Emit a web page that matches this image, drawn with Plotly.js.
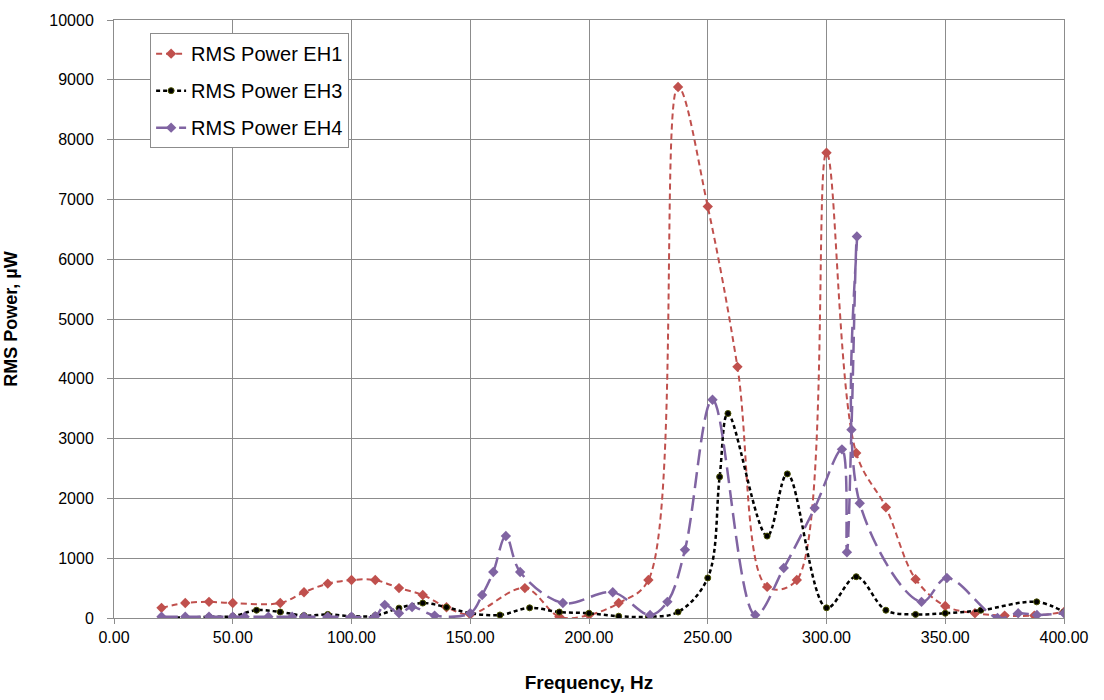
<!DOCTYPE html>
<html>
<head>
<meta charset="utf-8">
<script src="https://cdn.plot.ly/plotly-3.0.1.min.js"></script>
<style>html,body{margin:0;padding:0;background:#fff;}#chart{width:1104px;height:700px;}</style>
</head>
<body>
<div id="chart"></div>
<script>
// EH1 (red)
const freqEH1 = [20,30,40,50,70,80,90,100,110,120,130,140,150,173,187.5,200,212.5,225,237.5,250,262.5,275,287.5,300,312.5,325,337.5,350,362.5,375,387.5,400];
const powerEH1 = [170,250,270,250,250,430,575,635,635,500,385,180,60,500,20,50,250,635,8880,6880,4200,520,635,7780,2760,1850,650,200,80,40,40,100];
// EH3 (black)
const freqEH3 = [20,30,40,50,60,70,80,90,100,110,120,130,140,150,162.5,175,187.5,200,212.5,225,237.5,250,255,258.5,275,283.5,300,312.5,325,337.5,350,365,388.5,400];
const powerEH3 = [10,10,20,30,130,100,40,60,30,40,165,250,180,80,50,170,100,80,30,20,100,670,2360,3420,1370,2410,170,690,130,60,80,130,270,100];
// EH4 (purple)
const freqEH4 = [20,30,40,50,55,65,75,80,90,100,110,114,120,125.5,135,150,155,159.7,165,171,189,210,225.7,233,240.4,252,270,282,295,306.5,308.6,310.5,312.8,314,340,350.7,372,380.7,388.6,400];
const powerEH4 = [20,20,20,20,20,20,20,20,20,20,30,220,80,185,40,80,385,770,1370,770,250,430,50,270,1140,3650,50,835,1840,2820,1100,3150,6380,1920,270,670,0,80,50,80];

const seriesNames = ["RMS Power EH1","RMS Power EH3","RMS Power EH4"];
const xTickVals = [0,50,100,150,200,250,300,350,400];
const yTickVals = [0,1000,2000,3000,4000,5000,6000,7000,8000,9000,10000];

const traces = [
  {x: freqEH1, y: powerEH1, name: seriesNames[0], type: 'scatter', mode: 'lines+markers',
   line: {color: '#C0504D', width: 2, dash: '6px,4px', shape: 'spline', smoothing: 1},
   marker: {symbol: 'diamond', size: 8, color: '#C0504D'}, legendgroup: 'a'},
  {x: freqEH3, y: powerEH3, name: seriesNames[1], type: 'scatter', mode: 'lines+markers',
   line: {color: '#000000', width: 2.5, dash: '4px,3px', shape: 'spline', smoothing: 1},
   marker: {symbol: 'circle', size: 6, color: '#000000', line: {color: '#4a5200', width: 1}}, legendgroup: 'b'},
  {x: freqEH4, y: powerEH4, name: seriesNames[2], type: 'scatter', mode: 'lines+markers',
   line: {color: '#8064A2', width: 2.5, dash: '16px,7px', shape: 'spline', smoothing: 1},
   marker: {symbol: 'diamond', size: 8, color: '#8064A2'}, legendgroup: 'c'}
];

const font = 'Liberation Sans, Arial, sans-serif';
const layout = {
  width: 1104, height: 700,
  margin: {l: 114, r: 40, t: 20, b: 82},
  paper_bgcolor: '#ffffff', plot_bgcolor: '#ffffff',
  font: {family: font, size: 16, color: '#000'},
  showlegend: true,
  legend: {x: 0.038, y: 0.978, xanchor: 'left', yanchor: 'top', bgcolor: '#ffffff',
           bordercolor: '#8c8c8c', borderwidth: 1, font: {family: font, size: 20, color: '#000'},
           tracegroupgap: 8, itemwidth: 30},
  xaxis: {range: [0, 400], tickvals: xTickVals, tickformat: '.2f', showgrid: true, gridcolor: '#8c8c8c', gridwidth: 1,
          zeroline: false, showline: true, linecolor: '#8c8c8c', mirror: true, ticks: 'outside', ticklen: 5, tickcolor: '#8c8c8c',
          tickfont: {family: font, size: 16},
          title: {text: '<b>Frequency, Hz</b>', font: {family: font, size: 19}, standoff: 30}},
  yaxis: {range: [0, 10000], tickvals: yTickVals, tickformat: 'd', showgrid: true, gridcolor: '#8c8c8c', gridwidth: 1,
          zeroline: false, showline: true, linecolor: '#8c8c8c', mirror: true, ticks: 'outside', ticklen: 6, tickcolor: '#8c8c8c',
          ticklabelstandoff: 10,
          tickfont: {family: font, size: 16},
          title: {text: '<b>RMS Power, µW</b>', font: {family: font, size: 18}, standoff: 26}}
};
Plotly.newPlot('chart', traces, layout, {displayModeBar: false, staticPlot: true});
</script>
</body>
</html>
